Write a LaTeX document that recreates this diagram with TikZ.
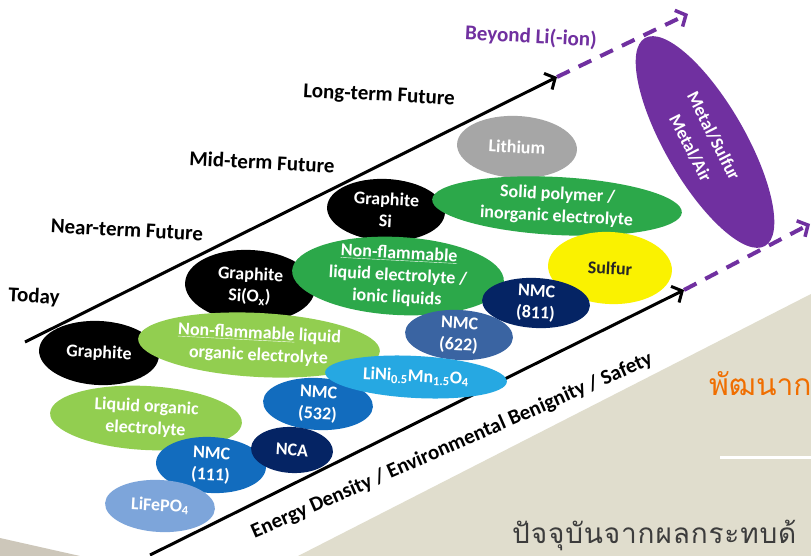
\documentclass[tikz,border=0pt]{standalone}
\usepackage{fontspec}
\setmainfont{Carlito}
\newfontfamily\thaifont[Script=Thai]{Loma}
\newfontfamily\thaispaced[Script=Thai,LetterSpace=3]{Loma}
\usetikzlibrary{arrows.meta}
\definecolor{bgbeige}{RGB}{224,221,205}
\definecolor{bgdark}{RGB}{205,199,186}
\definecolor{lgreen}{RGB}{146,206,80}
\definecolor{mgreen}{RGB}{44,168,74}
\definecolor{nmcblue}{RGB}{18,108,190}
\definecolor{fepblue}{RGB}{125,165,218}
\definecolor{navy}{RGB}{5,36,100}
\definecolor{steel}{RGB}{58,100,162}
\definecolor{skyblue}{RGB}{38,168,226}
\definecolor{lgray}{RGB}{166,166,166}
\definecolor{sulfur}{RGB}{250,242,0}
\definecolor{purp}{RGB}{112,48,160}
\definecolor{orangeth}{RGB}{240,110,0}
\definecolor{grayth}{RGB}{60,60,60}
\newcommand{\blob}[6]{%
  \fill[#5,rotate around={-3:(#2)}] (#2) ellipse [x radius=#3, y radius=#4];
  \node[intext] (#1) at (#2) {#6};}
\begin{document}
\begin{tikzpicture}[x=1pt,y=-1pt,
  intext/.style={font=\bfseries\fontsize{18}{22}\selectfont,align=center,text=white,inner sep=0pt,rotate=-3},
  lab/.style={font=\bfseries\fontsize{21}{24}\selectfont,text=black,inner sep=0pt,rotate=-3},
  axis/.style={line width=3pt,-{Straight Barb[length=8pt,width=18pt,line width=3pt]}},
  beyond/.style={purp,line width=4pt,dash pattern=on 14pt off 10pt,-{Straight Barb[length=8pt,width=18pt,line width=3.5pt]}}]
\clip (0,0) rectangle (811,556);
\fill[white] (0,0) rectangle (811,556);
\fill[bgbeige] (298,556) -- (811,294) -- (811,556) -- cycle;
\fill[bgdark] (0,538) -- (80,556) -- (0,556) -- cycle;
% axes
\coordinate (t0) at (25,342);
\coordinate (t1) at (557,77);
\coordinate (t2) at (688,14);
\coordinate (b0) at (150,555);
\coordinate (b1) at (684,290);
\coordinate (b2) at (810,224);
\draw[axis] (t0) -- (t1);
\draw[beyond] (t1) -- (t2);
\draw[axis] (b0) -- (b1);
\draw[beyond] (b1) -- (b2);
% labels
\node[lab,text=purp] (beyond) at (531,37) {Beyond Li(-ion)};
\node[lab] (long) at (379,96) {Long-term Future};
\node[lab] (mid) at (262,162) {Mid-term Future};
\node[lab] (near) at (127,230) {Near-term Future};
\node[lab] (today) at (34,297) {Today};
\node[lab,rotate=26.6] (energy) at (452,446) {Energy Density / Environmental Benignity / Safety};
% blobs
\blob{lithium}{517,147}{60}{31}{lgray}{Lithium}
\blob{graphsi}{386,210}{59}{31}{black}{Graphite\\Si}
\blob{solid}{557,206}{125}{29}{mgreen}{Solid polymer /\\inorganic electrolyte}
\fill[sulfur,rotate around={-3:(610,268)}] (610,268) ellipse [x radius=62, y radius=36];
\node[intext,text=black!85] (sulfur) at (610,268) {Sulfur};
\blob{graphsiox}{250,286}{65}{36}{black}{Graphite\\Si(O\textsubscript{x})}
\blob{ionic}{398,276}{106}{39}{mgreen}{\underline{Non-flammable}\\liquid electrolyte /\\ionic liquids}
\blob{nmc622}{459,335}{54}{25}{steel}{NMC\\(622)}
\blob{nmc811}{536,303}{54}{25}{navy}{NMC\\(811)}
\blob{graphite}{99,353}{60}{32}{black}{Graphite}
\blob{nfliq}{259,345}{121}{32}{lgreen}{\underline{Non-flammable} liquid\\organic electrolyte}
\blob{liqorg}{146,418}{96}{32}{lgreen}{Liquid organic\\electrolyte}
\blob{nmc532}{318,404}{55}{26}{nmcblue}{NMC\\(532)}
\blob{lnmo}{416,377}{91}{21}{skyblue}{LiNi\textsubscript{0.5}Mn\textsubscript{1.5}O\textsubscript{4}}
\blob{nmc111}{211,465}{55}{28}{nmcblue}{NMC\\(111)}
\blob{nca}{292,450}{41}{23}{navy}{NCA}
\blob{lfp}{160,506}{55}{26}{fepblue}{LiFePO\textsubscript{4}}
% beyond Li-ion
\fill[purp,rotate around={-60:(705,142)}] (705,142) ellipse [x radius=120, y radius=40];
\node[intext,rotate=-60,font=\bfseries\fontsize{18}{26}\selectfont] (metal) at (702,142) {Metal/Sulfur\\Metal/Air};
% slide elements
\node[anchor=base west,inner sep=0pt,text=orangeth,font=\thaifont\fontsize{30}{36}\selectfont] (th1) at (709,395) {พัฒนาก};
\draw[white,line width=3pt] (720,457) -- (811,457);
\node[anchor=base west,inner sep=0pt,text=grayth,font=\thaispaced\fontsize{28}{34}\selectfont] (th2) at (512,543) {ปัจจุบันจากผลกระทบด้};
\end{tikzpicture}
\end{document}
